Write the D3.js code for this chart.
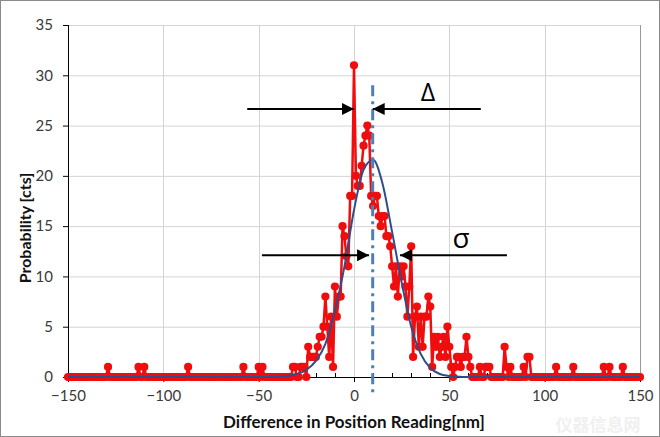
<!DOCTYPE html>
<html>
<head>
<meta charset="utf-8">
<script src="https://cdn.jsdelivr.net/npm/d3@7"></script>
<style>
  body { margin: 0; background: #fff; }
  svg { display: block; }
</style>
</head>
<body>
<div id="chart"></div>
<script>
const width = 660,
      height = 437;

// histogram bins, one per nm
const binMin = -150, binMax = 150;

// counts of the busy central part, from centerStart upward
const centerStart = -35;
const centerCounts = [
  0, 0, 0, 1, 1, 0, 0, 1, 1, 1,      // -35 .. -26
  0, 3, 2, 2, 2, 2, 3, 4, 4, 5,      // -25 .. -16
  8, 5, 2, 6, 1, 9, 6, 8, 8, 15,     // -15 .. -6
  14, 12, 11, 18, 18, 31, 20, 19, 19, 21, // -5 .. 4
  23, 24, 25, 24, 18, 17, 18, 18, 16, 15, // 5 .. 14
  16, 16, 14, 14, 13, 11, 9, 11, 8, 11,   // 15 .. 24
  10, 11, 9, 6, 9, 13, 2, 6, 7, 3,        // 25 .. 34
  6, 3, 6, 6, 8, 7, 1, 4, 3, 4,           // 35 .. 44
  2, 3, 4, 2, 5, 3, 1, 0, 1, 2,           // 45 .. 54
  2, 1, 2, 2, 4, 2, 1, 0                  // 55 .. 62
];

// isolated counts out in the tails
const tailX      = [-129, -113, -110, -87, -58, -50, -48, 66, 69, 70, 71, 79, 80, 82, 89, 91, 92, 106, 115, 131, 134, 141];
const tailCounts = [   1,    1,    1,   1,   1,   1,   1,  1,  1,  1,  1,  3,  1,  1,  1,  2,  2,   1,   1,   1,   1,   1];

// gaussian fit curve
const fitX = [-150, -45, -40, -35, -30, -25, -20, -15, -10, -5, 0, 5, 10, 15, 20, 25, 30, 35, 40, 45, 50, 55, 60, 150];
const fitY = [0, 0, 0.03, 0.1, 0.3, 0.7, 1.6, 3.3, 6.6, 11.0, 16.6, 20.6, 21.6, 19.2, 14.4, 9.4, 5.0, 2.3, 0.9, 0.3, 0.1, 0.03, 0, 0];

const xTicks = [-150, -100, -50, 0, 50, 100, 150];
const yTicks = [0, 5, 10, 15, 20, 25, 30, 35];

// annotation (data units)
const offsetX = 9.8;
const deltaY = 26.65, deltaLeft = [-56, 0], deltaRight = [66.5, offsetX];
const sigmaY = 12.1, sigmaLeft = [-48.3, 7.9], sigmaRight = [80.2, 24.1];

let counts = new Map();
d3.range(binMin, binMax + 1).forEach(x => counts.set(x, 0));
centerCounts.forEach((c, i) => counts.set(centerStart + i, c));
tailX.forEach((x, i) => counts.set(x, tailCounts[i]));
const data = Array.from(counts, ([x, c]) => ({ x: x, y: c })).sort((a, b) => a.x - b.x);

const fit = fitX.map((x, i) => ({ x: x, y: fitY[i] }));

const x = d3.scaleLinear().domain([-150, 150]).range([68, 640]);
const y = d3.scaleLinear().domain([0, 35]).range([377, 25]);

const svg = d3.select("#chart")
  .append("svg")
    .attr("width", width)
    .attr("height", height);

svg.append("rect")
  .attr("x", 0.5).attr("y", 0.5)
  .attr("width", width - 1).attr("height", height - 1)
  .attr("fill", "#fff")
  .attr("stroke", "#8a8a8a");

// faint watermark
svg.append("text")
  .attr("x", 598).attr("y", 431)
  .attr("text-anchor", "middle")
  .style("font-family", "'Noto Sans CJK SC'")
  .style("font-size", "17px")
  .style("font-weight", "bold")
  .attr("fill", "#f0f0f0")
  .text("仪器信息网");

// gridlines
svg.append("g")
  .selectAll("line.hgrid")
  .data(yTicks.filter(d => d > 0))
  .enter().append("line")
    .attr("x1", x(-150)).attr("x2", x(150))
    .attr("y1", d => y(d) + 0.5).attr("y2", d => y(d) + 0.5)
    .attr("stroke", "#d4d4d4");

svg.append("g")
  .selectAll("line.vgrid")
  .data(xTicks.filter(d => d > -150))
  .enter().append("line")
    .attr("x1", d => Math.round(x(d)) + 0.5).attr("x2", d => Math.round(x(d)) + 0.5)
    .attr("y1", y(35)).attr("y2", y(0))
    .attr("stroke", d => d == 150 ? "#9a9a9a" : "#d4d4d4");

// axes
const yAxis = svg.append("g")
  .attr("transform", `translate(${x(-150)},0)`)
  .call(d3.axisLeft(y).tickValues(yTicks).tickSize(5).tickPadding(10));

const xAxis = svg.append("g")
  .attr("transform", `translate(0,${y(0)})`)
  .call(d3.axisBottom(x).tickValues(xTicks).tickSize(5).tickPadding(8));

// minor ticks every 10 nm, pointing in
svg.append("g")
  .selectAll("line")
  .data(d3.range(-140, 150, 10).filter(d => d % 50 != 0))
  .enter().append("line")
    .attr("x1", d => Math.round(x(d)) + 0.5).attr("x2", d => Math.round(x(d)) + 0.5)
    .attr("y1", y(0) - 4).attr("y2", y(0))
    .attr("stroke", "#000");

[xAxis, yAxis].forEach(a => {
  a.select(".domain").attr("stroke", "#000");
  a.selectAll(".tick line").attr("stroke", "#000");
  a.selectAll(".tick text")
    .style("font-family", "Lato, 'Open Sans', sans-serif")
    .style("font-size", "15px")
    .attr("fill", "#3a3a3a");
});
yAxis.select(".domain").attr("d", `M0.5,${y(0)}V${y(35)}`);
xAxis.select(".domain").attr("d", `M${x(-150)},0.5H${x(150)}`);

// measured counts
const line = d3.line().x(d => x(d.x)).y(d => y(d.y));

svg.append("path")
  .datum(data)
  .attr("d", line)
  .attr("fill", "none")
  .attr("stroke", "#f00d0d")
  .attr("stroke-width", 2.5)
  .attr("stroke-linejoin", "round");

svg.append("g")
  .selectAll("circle")
  .data(data)
  .enter().append("circle")
    .attr("cx", d => x(d.x))
    .attr("cy", d => y(d.y))
    .attr("r", 4.1)
    .attr("fill", "#f00d0d");

// fitted gaussian
svg.append("path")
  .datum(fit)
  .attr("d", d3.line().x(d => x(d.x)).y(d => y(d.y)).curve(d3.curveMonotoneX))
  .attr("fill", "none")
  .attr("stroke", "#2e4d8a")
  .attr("stroke-width", 2);

// offset marker
svg.append("line")
  .attr("x1", x(offsetX)).attr("x2", x(offsetX))
  .attr("y1", y(29)).attr("y2", y(-1.8))
  .attr("stroke", "#4d7fb8")
  .attr("stroke-width", 3)
  .attr("stroke-dasharray", "11,5,3,5");

// arrows
svg.append("defs").append("marker")
  .attr("id", "head")
  .attr("viewBox", "0 0 12 12")
  .attr("refX", 12).attr("refY", 6)
  .attr("markerWidth", 12).attr("markerHeight", 12)
  .attr("markerUnits", "userSpaceOnUse")
  .attr("orient", "auto")
  .append("path")
    .attr("d", "M0,0L12,6L0,12Z")
    .attr("fill", "#000");

const arrows = [
  { y: deltaY, from: deltaLeft[0], to: deltaLeft[1] },
  { y: deltaY, from: deltaRight[0], to: deltaRight[1] },
  { y: sigmaY, from: sigmaLeft[0], to: sigmaLeft[1] },
  { y: sigmaY, from: sigmaRight[0], to: sigmaRight[1] }
];

svg.append("g")
  .selectAll("line")
  .data(arrows)
  .enter().append("line")
    .attr("x1", d => x(d.from)).attr("x2", d => x(d.to))
    .attr("y1", d => y(d.y)).attr("y2", d => y(d.y))
    .attr("stroke", "#000")
    .attr("stroke-width", 2)
    .attr("marker-end", "url(#head)");

svg.append("text")
  .attr("x", x(38.8)).attr("y", y(27.4))
  .attr("text-anchor", "middle")
  .style("font-family", "'Open Sans', sans-serif")
  .style("font-size", "25px")
  .text("Δ");

svg.append("text")
  .attr("x", x(56.2)).attr("y", y(12.8))
  .attr("text-anchor", "middle")
  .style("font-family", "'Open Sans', sans-serif")
  .style("font-size", "28px")
  .text("σ");

// axis titles
svg.append("text")
  .attr("x", x(0)).attr("y", 428)
  .attr("text-anchor", "middle")
  .style("font-family", "Lato, 'Open Sans', sans-serif")
  .style("font-size", "17px")
  .style("font-weight", "bold")
  .attr("fill", "#111")
  .text("Difference in Position Reading[nm]");

svg.append("text")
  .attr("transform", "translate(31,228) rotate(-90)")
  .attr("text-anchor", "middle")
  .style("font-family", "Lato, 'Open Sans', sans-serif")
  .style("font-size", "16px")
  .style("font-weight", "bold")
  .attr("fill", "#111")
  .text("Probability [cts]");
</script>
</body>
</html>
